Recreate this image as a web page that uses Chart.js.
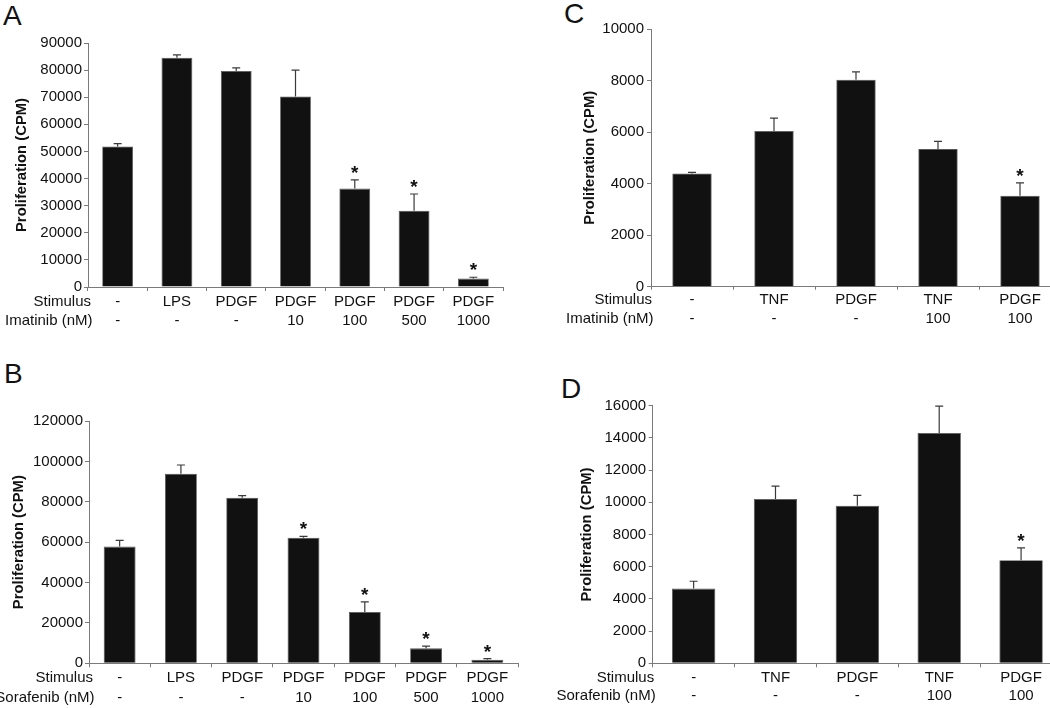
<!DOCTYPE html>
<html>
<head>
<meta charset="utf-8">
<script src="https://cdn.jsdelivr.net/npm/chart.js@4"></script>
<style>
  html, body { margin: 0; padding: 0; background: #fff; overflow: hidden; }
  body { width: 1050px; height: 708px; position: relative; }
  .panel { position: absolute; }
  .letter { position: absolute; font-family: "Liberation Sans", Arial, sans-serif; font-size: 28px; color: #111; line-height: 1; }
</style>
</head>
<body>
<div class="letter" style="left:3px;top:2px;">A</div>
<div class="letter" style="left:4px;top:360px;">B</div>
<div class="letter" style="left:564px;top:0px;">C</div>
<div class="letter" style="left:561px;top:375px;">D</div>

<div class="panel" style="left:0;top:0;"><canvas id="grafA" width="520" height="330"></canvas></div>
<div class="panel" style="left:0;top:330px;"><canvas id="grafB" width="530" height="378"></canvas></div>
<div class="panel" style="left:530px;top:0;"><canvas id="grafC" width="540" height="330"></canvas></div>
<div class="panel" style="left:530px;top:330px;"><canvas id="grafD" width="540" height="378"></canvas></div>

<script>
// Panel A - Imatinib
const stimA = ['-', 'LPS', 'PDGF', 'PDGF', 'PDGF', 'PDGF', 'PDGF'];
const doseA = ['-', '-', '-', '10', '100', '500', '1000'];
const valoresA = [51800, 84600, 79700, 70300, 36300, 28100, 3100];
const erroresA = [1100, 1000, 1100, 9700, 3200, 6200, 500];
const signifA = [false, false, false, false, true, true, true];

// Panel B - Sorafenib
const stimB = ['-', 'LPS', 'PDGF', 'PDGF', 'PDGF', 'PDGF', 'PDGF'];
const doseB = ['-', '-', '-', '10', '100', '500', '1000'];
const valoresB = [57800, 93900, 82000, 62200, 25400, 7400, 1700];
const erroresB = [3100, 4300, 1000, 700, 5000, 1150, 650];
const signifB = [false, false, false, true, true, true, true];

// Panel C - Imatinib con TNF
const stimC = ['-', 'TNF', 'PDGF', 'TNF', 'PDGF'];
const doseC = ['-', '-', '-', '100', '100'];
const valoresC = [4390, 6040, 8030, 5340, 3530];
const erroresC = [50, 500, 310, 300, 500];
const signifC = [false, false, false, false, true];

// Panel D - Sorafenib con TNF
const stimD = ['-', 'TNF', 'PDGF', 'TNF', 'PDGF'];
const doseD = ['-', '-', '-', '100', '100'];
const valoresD = [4640, 10210, 9790, 14310, 6400];
const erroresD = [455, 790, 640, 1660, 770];
const signifD = [false, false, false, false, true];

const fuente = '"Liberation Sans", Arial, Helvetica, sans-serif';
const gris = '#7a7a7a';

function crearGrafica(id, cfg) {
    const labels = cfg.stim.map((s, i) => [s, cfg.dose[i]]);

    // barras de error (solo la mitad superior), asteriscos y cabeceras de fila
    const extras = {
        id: 'extras_' + id,
        afterDatasetsDraw(chart) {
            const ctx = chart.ctx;
            const y = chart.scales.y;
            const meta = chart.getDatasetMeta(0);
            ctx.save();
            meta.data.forEach((bar, i) => {
                const top = y.getPixelForValue(cfg.valores[i] + cfg.errores[i]);
                ctx.strokeStyle = '#3a3a3a';
                ctx.lineWidth = 1.2;
                ctx.beginPath();
                ctx.moveTo(bar.x, bar.y);
                ctx.lineTo(bar.x, top);
                ctx.moveTo(bar.x - 4, top);
                ctx.lineTo(bar.x + 4, top);
                ctx.stroke();
                if (cfg.signif[i]) {
                    ctx.fillStyle = '#111';
                    ctx.font = 'bold 19px ' + fuente;
                    ctx.textAlign = 'center';
                    ctx.textBaseline = 'alphabetic';
                    ctx.fillText('*', bar.x, top - 1);
                }
            });
            // cabeceras "Stimulus" / "Imatinib (nM)"
            const x = chart.scales.x;
            const fila1 = x.top + cfg.xTick + cfg.xPad + cfg.lh / 2;
            ctx.fillStyle = '#111';
            ctx.font = '15px ' + fuente;
            ctx.textAlign = 'right';
            ctx.textBaseline = 'middle';
            ctx.fillText('Stimulus', chart.chartArea.left + cfg.headX, fila1);
            ctx.fillText(cfg.droga, chart.chartArea.left + cfg.headX + 1.5, fila1 + cfg.lh);
            ctx.restore();
        }
    };

    return new Chart(document.getElementById(id), {
        type: 'bar',
        data: {
            labels: labels,
            datasets: [{
                data: cfg.valores,
                backgroundColor: '#111111',
                borderColor: '#555555',
                borderWidth: 0.8,
                barPercentage: cfg.barPct,
                categoryPercentage: 1
            }]
        },
        options: {
            responsive: false,
            animation: false,
            devicePixelRatio: 1,
            layout: { padding: cfg.padding },
            plugins: { legend: { display: false }, tooltip: { enabled: false } },
            scales: {
                x: {
                    grid: { drawOnChartArea: false, drawTicks: true, tickLength: cfg.xTick, color: gris, offset: true },
                    border: { color: gris, width: 1 },
                    ticks: {
                        autoSkip: false, maxRotation: 0, padding: cfg.xPad, color: '#111',
                        font: { family: fuente, size: 15, lineHeight: cfg.lh + 'px' }
                    },
                    afterFit(s) { s.height = cfg.xHeight; }
                },
                y: {
                    min: 0,
                    max: cfg.max,
                    grid: { drawOnChartArea: false, drawTicks: true, tickLength: 4, color: gris },
                    border: { color: gris, width: 1 },
                    ticks: {
                        stepSize: cfg.step, padding: cfg.yPad, color: '#111',
                        font: { family: fuente, size: 15 },
                        callback: v => String(v)
                    },
                    title: {
                        display: true,
                        text: 'Proliferation (CPM)',
                        color: '#111',
                        font: { family: fuente, size: 14.8, weight: 'bold' },
                        padding: { top: cfg.titlePad, bottom: 0 }
                    },
                    afterFit(s) { s.width = cfg.yWidth; }
                }
            }
        },
        plugins: [extras]
    });
}

document.addEventListener('DOMContentLoaded', function() {
    crearGrafica('grafA', {
        stim: stimA, dose: doseA, valores: valoresA, errores: erroresA, signif: signifA,
        droga: 'Imatinib (nM)', max: 90000, step: 10000, barPct: 0.52,
        padding: { top: 43, right: 17, bottom: 0, left: 0 },
        yWidth: 88, xHeight: 43, titlePad: 13, yPad: 2,
        xTick: 4, xPad: 1, lh: 19, headX: 3
    });
    crearGrafica('grafB', {
        stim: stimB, dose: doseB, valores: valoresB, errores: erroresB, signif: signifB,
        droga: 'Sorafenib (nM)', max: 120000, step: 20000, barPct: 0.52,
        padding: { top: 91, right: 12, bottom: 0, left: 0 },
        yWidth: 89, xHeight: 44.7, titlePad: 9.6, yPad: 2,
        xTick: 4, xPad: 1, lh: 20, headX: 4
    });
    crearGrafica('grafC', {
        stim: stimC, dose: doseC, valores: valoresC, errores: erroresC, signif: signifC,
        droga: 'Imatinib (nM)', max: 10000, step: 2000, barPct: 0.48,
        padding: { top: 29, right: 9, bottom: 0, left: 0 },
        yWidth: 121, xHeight: 43.3, titlePad: 51.3, yPad: 3,
        xTick: 3, xPad: 0, lh: 19.5, headX: 1
    });
    crearGrafica('grafD', {
        stim: stimD, dose: doseD, valores: valoresD, errores: erroresD, signif: signifD,
        droga: 'Sorafenib (nM)', max: 16000, step: 2000, barPct: 0.53,
        padding: { top: 75.7, right: 8, bottom: 0, left: 0 },
        yWidth: 122.7, xHeight: 44.7, titlePad: 48, yPad: 2.5,
        xTick: 4, xPad: 1, lh: 18.3, headX: 1.5
    });
});
</script>
</body>
</html>
